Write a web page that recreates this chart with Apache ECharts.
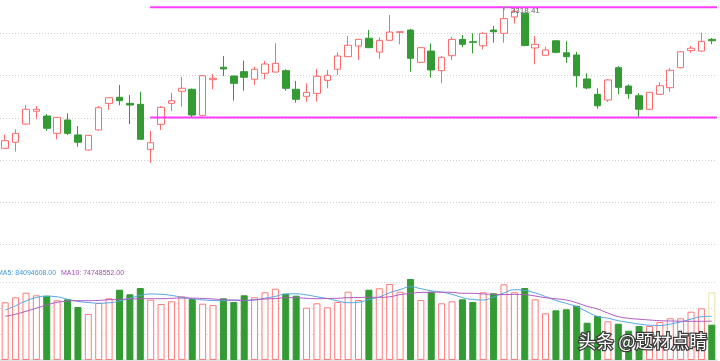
<!DOCTYPE html>
<html>
<head>
<meta charset="utf-8">
<script src="https://cdn.jsdelivr.net/npm/echarts@6/dist/echarts.min.js"></script>
<style>
html,body{margin:0;padding:0;background:#ffffff;}
#c{width:720px;height:361px;}
</style>
</head>
<body>
<div id="c"></div>
<script>
// ---- data ----
const opens = [3218.4,3222.7,3235.6,3244.7,3241.3,3229.0,3238.5,3227.9,3217.2,3231.4,
  3250.3,3254.6,3250.3,3249.6,3217.7,3235.4,3250.3,3258.9,3260.3,3241.8,
  3267.1,3275.9,3269.7,3272.8,3267.4,3271.6,3272.5,3273.5,3260.3,3255.3,
  3257.4,3266.6,3274.5,3283.4,3291.0,3296.5,3286.7,3295.0,3300.7,3302.3,
  3279.4,3287.4,3273.5,3284.1,3295.7,3294.0,3291.2,3302.3,3300.0,3311.6,
  3314.2,3289.6,3284.4,3294.7,3286.2,3284.6,3267.6,3256.7,3252.7,3275.6,
  3262.6,3255.7,3246.1,3256.7,3261.4,3275.6,3287.7,3287.4,3295.7];
const closes = [3223.8,3229.0,3246.1,3246.1,3232.6,3240.4,3229.0,3222.7,3227.6,3247.2,
  3254.3,3252.2,3249.1,3224.8,3222.4,3247.5,3252.2,3261.0,3242.0,3269.9,
  3268.1,3274.7,3264.5,3268.8,3274.5,3278.2,3278.7,3261.0,3253.2,3258.1,
  3269.5,3270.2,3283.9,3291.5,3295.7,3289.8,3295.0,3300.9,3301.1,3282.3,
  3289.8,3274.0,3283.0,3295.7,3292.2,3293.6,3300.0,3301.1,3310.4,3315.5,
  3291.3,3292.2,3288.2,3286.5,3283.4,3269.9,3261.2,3248.6,3266.9,3261.7,
  3257.2,3246.1,3258.1,3262.8,3273.8,3286.9,3289.4,3294.3,3294.7];
const lows = [3217.9,3216.0,3235.3,3239.0,3230.9,3224.8,3227.9,3219.5,3216.8,3231.0,
  3245.6,3248.9,3235.6,3224.7,3208.2,3231.4,3244.9,3247.9,3240.4,3241.7,
  3260.3,3269.7,3252.2,3259.3,3263.3,3267.4,3272.2,3259.3,3250.8,3251.5,
  3251.5,3261.0,3270.4,3283.2,3281.1,3289.6,3282.0,3294.9,3292.2,3272.8,
  3279.3,3268.5,3264.5,3281.1,3290.1,3285.8,3288.6,3293.3,3293.3,3306.9,
  3291.2,3278.0,3284.2,3285.8,3279.1,3261.7,3260.3,3246.5,3251.3,3256.9,
  3253.4,3240.3,3245.6,3256.6,3258.6,3275.2,3286.2,3287.1,3292.2];
const highs = [3227.9,3231.9,3249.1,3248.4,3242.7,3240.6,3243.2,3234.2,3227.9,3248.4,
  3254.8,3263.3,3256.2,3258.6,3230.9,3248.4,3257.9,3269.2,3260.8,3270.1,
  3271.1,3283.9,3269.9,3280.6,3276.3,3280.4,3292.9,3274.5,3266.2,3264.5,
  3274.7,3274.0,3286.5,3298.1,3296.0,3302.4,3297.2,3313.0,3301.3,3303.1,
  3289.9,3292.9,3283.9,3297.6,3298.8,3300.0,3300.6,3305.2,3318.41,3317.7,
  3314.4,3298.1,3290.5,3294.9,3294.3,3286.9,3271.6,3261.0,3267.6,3276.8,
  3263.8,3257.4,3258.4,3265.2,3275.2,3287.4,3291.0,3300.4,3296.7];
// volumes in millions
const volumes = [110.96,120.58,129.42,124.42,123.65,114.81,116.73,101.92,88.46,109.62,
  118.65,135.19,126.35,138.46,115.96,107.69,112.88,122.50,117.31,108.27,
  105.77,118.65,111.54,124.42,120.58,130.19,137.12,127.50,123.65,100.58,
  109.04,101.35,111.54,131.35,115.38,135.19,137.88,146.15,131.35,155.77,
  115.38,131.35,109.04,112.88,116.73,111.54,130.19,128.27,145.58,130.19,
  138.46,116.73,89.81,95.58,97.50,104.42,71.73,84.62,74.42,69.81,
  56.35,65.38,65.38,73.08,80.19,80.19,92.88,99.42,67.79];
const projectedLastVolume = 130.19;
const ma5 = [96.15,104.23,113.65,120.00,122.69,121.54,116.92,112.69,110.58,109.23,
  110.00,113.46,118.65,124.23,126.92,126.35,124.23,120.58,117.69,115.77,
  114.23,114.04,115.19,114.42,115.38,118.85,122.31,126.92,127.31,125.19,
  121.54,118.27,113.65,110.19,111.15,116.35,121.15,129.42,135.38,140.77,
  137.12,133.08,130.58,126.35,120.00,116.35,115.38,121.15,128.85,135.19,
  133.85,128.85,122.12,114.62,108.85,102.50,92.69,83.85,80.38,75.58,
  72.31,69.04,66.92,66.35,69.23,73.08,78.65,83.27,84.094608];
const ma10 = [84.04,88.08,93.65,99.62,105.77,110.96,113.08,114.04,114.04,114.62,
  115.96,116.73,117.31,117.88,117.88,117.88,118.65,119.23,119.04,118.46,
  117.31,115.96,115.19,114.81,115.77,117.31,118.08,119.81,119.81,118.65,
  117.88,118.27,118.65,119.81,120.19,120.58,120.58,121.54,125.77,127.88,
  130.00,130.19,130.38,130.19,128.27,128.27,126.92,126.35,125.77,126.15,
  125.58,123.08,119.81,117.69,115.38,110.00,103.27,98.08,90.19,83.46,
  80.19,78.46,76.92,75.58,75.00,74.62,74.42,74.42,74.748552];
const levelLines = [3318.41, 3240.3];
const levelStartIndex = 14;

// ---- build ----
const N = opens.length;
const days = opens.map((_, i) => 'D' + (i + 1));
const UP = '#ff6a6a', DOWN = '#349a34';
const candleData = opens.map((o, i) => [o, closes[i], lows[i], highs[i]]);
const volData = volumes.map((v, i) => {
  const up = closes[i] >= opens[i];
  return { value: v, itemStyle: { color: up ? '#ffffff' : DOWN, borderColor: up ? '#ff7a7a' : DOWN } };
});
const projData = volumes.map((v, i) => i === N - 1 ? projectedLastVolume : '-');
let maxIdx = 0;
highs.forEach((h, i) => { if (h > highs[maxIdx]) maxIdx = i; });

const chart = echarts.init(document.getElementById('c'), null, { renderer: 'canvas' });
const levelSeries = levelLines.map(v => ({
  type: 'line', xAxisIndex: 2, yAxisIndex: 0,
  data: [[levelStartIndex + 0.45, v], [N, v]],
  symbol: 'none', silent: true, z: 10,
  lineStyle: { color: '#ff3cff', width: 2 }
}));
const FONT = '"Liberation Sans", Arial, sans-serif';

chart.setOption({
  animation: false,
  backgroundColor: '#ffffff',
  grid: [
    { left: 0, right: 3, top: 0, height: 287 },
    { left: 0, right: 3, top: 266.4, height: 93.6 }
  ],
  xAxis: [
    { type: 'category', gridIndex: 0, data: days, boundaryGap: true,
      axisLine: { show: false }, axisTick: { show: false }, axisLabel: { show: false }, splitLine: { show: false } },
    { type: 'category', gridIndex: 1, data: days, boundaryGap: true, position: 'top',
      axisLine: { show: true, lineStyle: { color: '#d6d6d6', width: 1.5 } },
      axisTick: { show: false }, axisLabel: { show: false }, splitLine: { show: false } },
    { type: 'value', gridIndex: 0, min: 0, max: N, show: false }
  ],
  yAxis: [
    { type: 'value', gridIndex: 0, min: 3120, max: 3323.63, interval: 30,
      axisLine: { show: false }, axisTick: { show: false }, axisLabel: { show: false },
      splitLine: { show: true, showMinLine: false, showMaxLine: false,
        lineStyle: { color: '#cfcfcf', type: [1, 2], width: 1 } } },
    { type: 'value', gridIndex: 1, min: 0, max: 180, interval: 50,
      axisLine: { show: false }, axisTick: { show: false }, axisLabel: { show: false },
      splitLine: { show: true, showMinLine: false, showMaxLine: false,
        lineStyle: { color: '#d6d6d6', type: [1, 2], width: 1 } } }
  ],
  series: [
    {
      type: 'candlestick', xAxisIndex: 0, yAxisIndex: 0, data: candleData, barWidth: 7,
      itemStyle: { color: '#ffffff', color0: DOWN, borderColor: UP, borderColor0: DOWN, borderWidth: 1 }
    },
    ...levelSeries,
    {
      type: 'scatter', xAxisIndex: 0, yAxisIndex: 0, z: 20, silent: true,
      data: [[maxIdx, highs[maxIdx]]],
      symbol: 'path://M0,3 L0,0 L4,0', symbolSize: [4, 3], symbolOffset: [2, 1.5],
      itemStyle: { color: 'none', borderColor: '#8a8a8a', borderWidth: 1, opacity: 1 },
      label: { show: true, position: 'right', distance: 0, offset: [0, 2],
        color: '#666666', fontSize: 8, fontFamily: FONT,
        formatter: p => p.value[1].toFixed(2) }
    },
    { type: 'bar', xAxisIndex: 1, yAxisIndex: 1, data: projData, barWidth: 7, barGap: '-100%',
      itemStyle: { color: 'rgba(255,255,255,0)', borderColor: '#e4e4a4', borderWidth: 1 } },
    { type: 'bar', xAxisIndex: 1, yAxisIndex: 1, data: volData, barWidth: 7, barGap: '-100%',
      itemStyle: { borderWidth: 1 } },
    { type: 'line', xAxisIndex: 1, yAxisIndex: 1, data: ma5, smooth: true, symbol: 'none',
      lineStyle: { color: '#52a7e6', width: 1 }, z: 5 },
    { type: 'line', xAxisIndex: 1, yAxisIndex: 1, data: ma10, smooth: true, symbol: 'none',
      lineStyle: { color: '#b057c2', width: 1 }, z: 5 }
  ],
  graphic: [
    { type: 'text', left: -3, top: 270, z: 20,
      style: { text: 'MA5: ' + (ma5[N - 1] * 1e6).toFixed(2), fill: '#3f98df',
        font: '7px ' + FONT } },
    { type: 'text', left: 61, top: 270, z: 20,
      style: { text: 'MA10: ' + (ma10[N - 1] * 1e6).toFixed(2), fill: '#a848b8',
        font: '7px ' + FONT } },
    { type: 'text', left: 577, top: 331, z: 30,
      style: { text: '头条 @题材点睛', fill: '#ffffff', stroke: '#3a3a3a', lineWidth: 2.5,
        font: '18px "Noto Sans CJK SC", sans-serif',
        shadowColor: 'rgba(0,0,0,0.35)', shadowBlur: 2 } }
  ]
});
</script>
</body>
</html>
